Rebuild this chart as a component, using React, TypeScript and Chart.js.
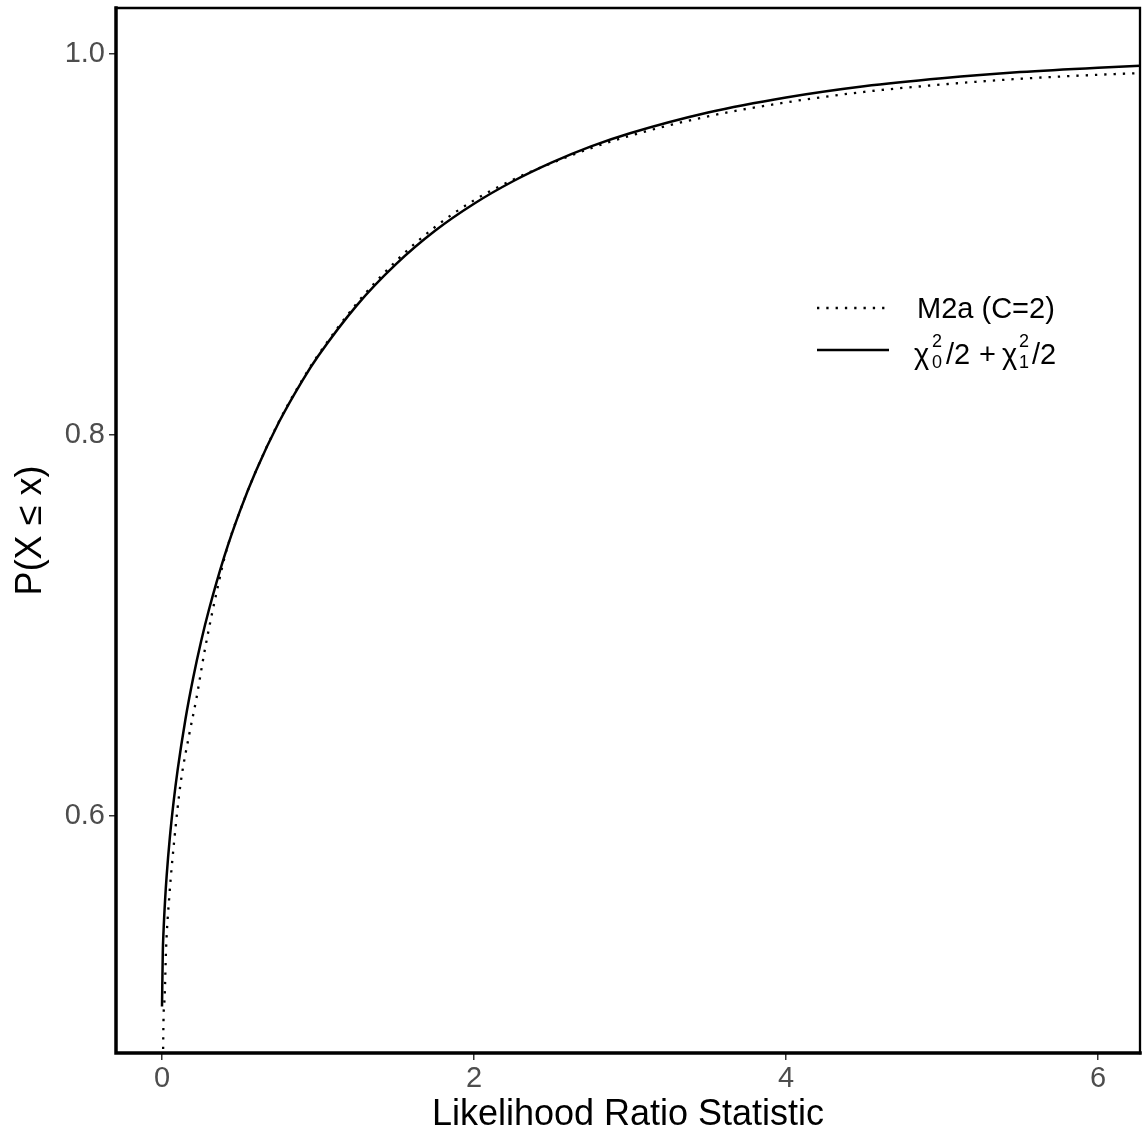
import React, { useEffect, useRef } from "react";
import { Chart, registerables } from "chart.js";

Chart.register(...registerables);

// Solid curve: chi-bar mixture 1/2 chi2_0 + 1/2 chi2_1
const solidX = [0, 0.005, 0.01, 0.02, 0.03, 0.05, 0.075, 0.1, 0.15, 0.2, 0.25, 0.3, 0.4, 0.5, 0.6, 0.75, 0.9, 1.0, 1.25, 1.5, 1.75, 2.0, 2.25, 2.5, 2.75, 3.0, 3.5, 4.0, 4.5, 5.0, 5.5, 6.0, 6.3];
const solidY = [0.5, 0.5282, 0.5399, 0.5562, 0.5688, 0.5885, 0.6079, 0.6241, 0.6507, 0.6726, 0.6915, 0.708, 0.7364, 0.7602, 0.7807, 0.8068, 0.8286, 0.8413, 0.8682, 0.8897, 0.9072, 0.9214, 0.9332, 0.9431, 0.9515, 0.9584, 0.9693, 0.9772, 0.9831, 0.9873, 0.9905, 0.9928, 0.9939];

// Dotted curve: M2a (C=2)
const dottedX = [0, 0.003, 0.009, 0.017, 0.026, 0.047, 0.077, 0.119, 0.175, 0.219, 0.274, 0.362, 0.415, 0.5, 0.6, 0.75, 0.9, 1.0, 1.25, 1.5, 1.75, 2.0, 2.25, 2.5, 2.75, 3.0, 3.5, 4.0, 4.5, 5.0, 5.5, 6.0, 6.3];
const dottedY = [0.38, 0.43, 0.49, 0.505, 0.53, 0.558, 0.586, 0.617, 0.643, 0.661, 0.687, 0.722, 0.74, 0.7602, 0.7807, 0.8071, 0.8291, 0.8419, 0.8692, 0.8913, 0.9092, 0.9232, 0.934, 0.9428, 0.9506, 0.9571, 0.9673, 0.9746, 0.9801, 0.984, 0.987, 0.9891, 0.9901];

const xTicks = [0, 2, 4, 6];
const yTicks = [0.6, 0.8, 1.0];
const xTitle = "Likelihood Ratio Statistic";
const yTitle = "P(X \u2264 x)";
const legendLabel1 = "M2a (C=2)";
const chiSymbol = "\u03C7";

const FONT = '"Liberation Sans", Arial, Helvetica, sans-serif';

export default function App() {
  const ref = useRef<HTMLCanvasElement>(null);

  useEffect(() => {
    const canvas = ref.current;
    if (!canvas) return;

    const overlay = {
      id: "overlay",
      afterDraw(chart: any) {
        const c = chart.ctx as CanvasRenderingContext2D;
        const a = chart.chartArea;
        c.save();
        // panel border
        c.strokeStyle = "#000";
        c.lineCap = "square";
        c.lineWidth = 2.3;
        c.beginPath();
        c.moveTo(a.left, a.top);
        c.lineTo(a.right, a.top);
        c.lineTo(a.right, a.bottom);
        c.stroke();
        c.lineWidth = 3.5;
        c.beginPath();
        c.moveTo(a.left, a.top);
        c.lineTo(a.left, a.bottom);
        c.lineTo(a.right, a.bottom);
        c.stroke();

        // axis titles
        c.fillStyle = "#000";
        c.font = `36px ${FONT}`;
        c.textAlign = "center";
        c.textBaseline = "alphabetic";
        c.fillText(xTitle, (a.left + a.right) / 2, 1125);
        c.save();
        c.translate(41, (a.top + a.bottom) / 2);
        c.rotate(-Math.PI / 2);
        c.fillText(yTitle, 0, 0);
        c.restore();

        // legend
        c.lineCap = "butt";
        c.lineWidth = 2.3;
        c.setLineDash([2.3, 7]);
        c.beginPath();
        c.moveTo(817, 308);
        c.lineTo(889, 308);
        c.stroke();
        c.setLineDash([]);
        c.lineWidth = 2.5;
        c.beginPath();
        c.moveTo(817, 350);
        c.lineTo(889, 350);
        c.stroke();

        c.textAlign = "left";
        c.font = `29px ${FONT}`;
        c.fillText(legendLabel1, 917, 318);

        const big = `29px ${FONT}`;
        const small = `18px ${FONT}`;
        c.font = big;
        c.fillText(chiSymbol, 914, 364);
        c.font = small;
        c.fillText("2", 932, 347);
        c.fillText("0", 932, 368);
        c.font = big;
        c.fillText("/2", 946, 364);
        c.fillText("+", 979, 364);
        c.fillText(chiSymbol, 1002, 364);
        c.font = small;
        c.fillText("2", 1019, 347);
        c.fillText("1", 1019, 368);
        c.font = big;
        c.fillText("/2", 1032, 364);
        c.restore();
      },
    };

    const chart = new Chart(canvas, {
      type: "scatter",
      data: {
        datasets: [
          {
            label: legendLabel1,
            data: dottedX.map((x, i) => ({ x, y: dottedY[i] })),
            showLine: true,
            borderColor: "#000",
            borderWidth: 2.3,
            borderDash: [2.3, 7],
            borderCapStyle: "butt",
            pointRadius: 0,
            cubicInterpolationMode: "monotone",
          },
          {
            label: "chi-bar",
            data: solidX.map((x, i) => ({ x, y: solidY[i] })),
            showLine: true,
            borderColor: "#000",
            borderWidth: 2.5,
            pointRadius: 0,
            cubicInterpolationMode: "monotone",
          },
        ],
      },
      options: {
        responsive: false,
        animation: false,
        layout: { padding: { top: 8, right: 3, left: 0, bottom: 0 } },
        plugins: { legend: { display: false }, tooltip: { enabled: false } },
        scales: {
          x: {
            type: "linear",
            min: -0.2949,
            max: 6.269,
            afterBuildTicks: (s: any) => {
              s.ticks = xTicks.map((v) => ({ value: v }));
            },
            afterFit: (s: any) => {
              s.height = 78;
              s.paddingLeft = 0;
              s.paddingRight = 0;
            },
            grid: { drawOnChartArea: false, drawTicks: true, tickLength: 7, color: "#333333", lineWidth: 1.5 },
            border: { display: false },
            ticks: {
              color: "#4D4D4D",
              font: { family: FONT, size: 29 },
              padding: 2,
              maxRotation: 0,
              autoSkip: false,
              callback: (v: any) => String(v),
            },
          },
          y: {
            type: "linear",
            min: 0.47559,
            max: 1.02415,
            afterBuildTicks: (s: any) => {
              s.ticks = yTicks.map((v) => ({ value: v }));
            },
            afterFit: (s: any) => {
              s.width = 116;
              s.paddingTop = 0;
              s.paddingBottom = 0;
            },
            grid: { drawOnChartArea: false, drawTicks: true, tickLength: 7, color: "#333333", lineWidth: 1.5 },
            border: { display: false },
            ticks: {
              color: "#4D4D4D",
              font: { family: FONT, size: 29 },
              padding: 4,
              autoSkip: false,
              callback: (v: any) => Number(v).toFixed(1),
            },
          },
        },
      },
      plugins: [overlay],
    } as any);

    return () => chart.destroy();
  }, []);

  return (
    <canvas
      ref={ref}
      width={1143}
      height={1131}
      style={{ position: "absolute", left: 0, top: 0, display: "block" }}
    />
  );
}
